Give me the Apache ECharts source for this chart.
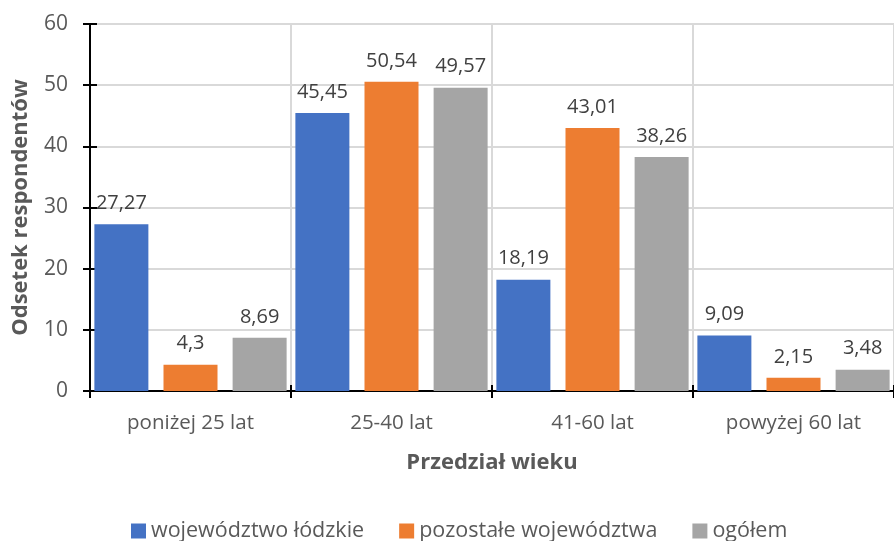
<!DOCTYPE html>
<html>
<head>
<meta charset="utf-8">
<script src="https://cdn.jsdelivr.net/npm/echarts@6/dist/echarts.min.js"></script>
<style>
  html, body { margin: 0; padding: 0; background: #fff; }
  #chart { width: 894px; height: 541px; }
</style>
</head>
<body>
<div id="chart"></div>
<script>
'use strict';
const categories = ["poniżej 25 lat", "25-40 lat", "41-60 lat", "powyżej 60 lat"];
const seriesNames = ["województwo łódzkie", "pozostałe województwa", "ogółem"];
const lodzkie = [27.27, 45.45, 18.19, 9.09];
const pozostale = [4.3, 50.54, 43.01, 2.15];
const ogolem = [8.69, 49.57, 38.26, 3.48];
const colors = ["#4472C4", "#ED7D31", "#A5A5A5"];

const font = "'Open Sans', sans-serif";

function fmt(v) {
    return String(v).replace(".", ",");
}

function makeSeries(name, data, color) {
    return {
        name: name,
        type: 'bar',
        data: data,
        barWidth: 54,
        barGap: '28%',
        itemStyle: { color: color },
        label: {
            show: true,
            position: 'top',
            distance: 11,
            color: '#404040',
            fontSize: 20,
            fontFamily: font,
            formatter: p => fmt(p.value)
        }
    };
}

const chart = echarts.init(document.getElementById('chart'));

chart.setOption({
    animation: false,
    textStyle: { fontFamily: font },
    grid: { left: 90, right: -7, top: 24, bottom: 150, containLabel: false },
    legend: {
        bottom: -6,
        left: 126,
        itemWidth: 15,
        itemHeight: 15,
        itemGap: 35,
        icon: 'rect',
        textStyle: { color: '#595959', fontSize: 21.5, fontFamily: font },
        data: seriesNames
    },
    xAxis: [{
        type: 'category',
        data: categories,
        name: 'Przedział wieku',
        nameLocation: 'middle',
        nameGap: 61,
        nameTextStyle: { color: '#595959', fontSize: 22, fontWeight: 'bold', fontFamily: font },
        axisLine: { lineStyle: { color: '#000', width: 2 } },
        axisTick: { show: true, length: 7, interval: 0, lineStyle: { color: '#000', width: 2 } },
        axisLabel: { color: '#595959', fontSize: 20.5, margin: 22, fontFamily: font },
        splitLine: { show: true, interval: 0, lineStyle: { color: '#d9d9d9', width: 2 } }
    }, {
        type: 'category',
        data: categories,
        position: 'bottom',
        axisLine: { show: false },
        axisTick: { show: true, inside: true, length: 6, interval: 0, lineStyle: { color: '#000', width: 2 } },
        axisLabel: { show: false },
        splitLine: { show: false }
    }],
    yAxis: [{
        type: 'value',
        min: 0,
        max: 60,
        interval: 10,
        name: 'Odsetek respondentów',
        nameLocation: 'middle',
        nameGap: 58,
        nameTextStyle: { color: '#595959', fontSize: 22, fontWeight: 'bold', fontFamily: font },
        axisLine: { show: true, lineStyle: { color: '#000', width: 2 } },
        axisTick: { show: true, length: 7, lineStyle: { color: '#000', width: 2 } },
        axisLabel: { color: '#595959', fontSize: 21, margin: 22, fontFamily: font },
        splitLine: { show: true, lineStyle: { color: '#d9d9d9', width: 2 } }
    }, {
        type: 'value',
        min: 0,
        max: 60,
        interval: 10,
        position: 'left',
        axisLine: { show: false },
        axisTick: { show: true, inside: true, length: 7, lineStyle: { color: '#000', width: 2 } },
        axisLabel: { show: false },
        splitLine: { show: false }
    }],
    series: [
        makeSeries(seriesNames[0], lodzkie, colors[0]),
        makeSeries(seriesNames[1], pozostale, colors[1]),
        makeSeries(seriesNames[2], ogolem, colors[2])
    ]
});
</script>
</body>
</html>
